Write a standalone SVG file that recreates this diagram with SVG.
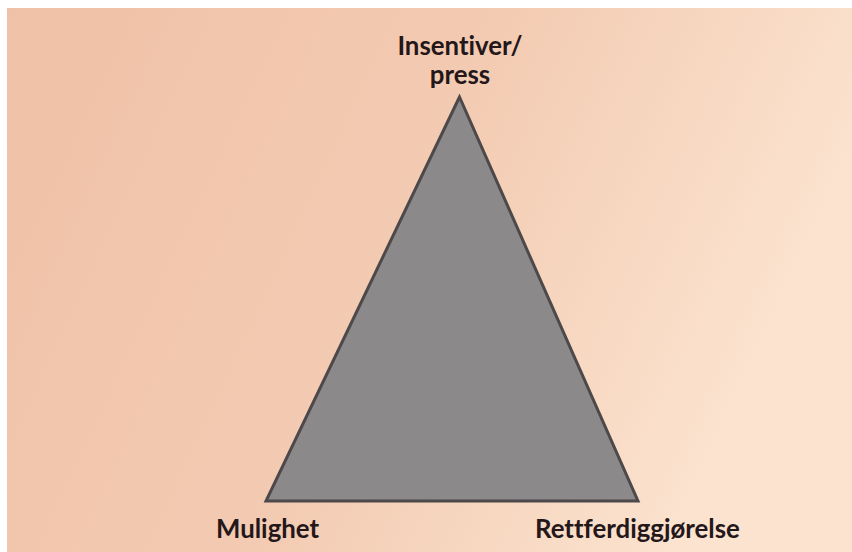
<svg xmlns="http://www.w3.org/2000/svg" width="852" height="552" viewBox="0 0 852 552">
  <defs>
    <linearGradient id="paper" x1="0" y1="0" x2="1" y2="0.3">
      <stop offset="0" stop-color="#efc1a6"/>
      <stop offset="0.55" stop-color="#f3cbb2"/>
      <stop offset="1" stop-color="#fbe3cf"/>
    </linearGradient>
    <style>
      .lbl { font-family: Lato, "Open Sans", "Liberation Sans", sans-serif; font-weight: bold; font-size: 25.8px; fill: #24171a; font-variant-ligatures: none; }
      .tri { fill: #8c898a; stroke: #4d494b; stroke-width: 3; stroke-linejoin: miter; }
    </style>
  </defs>
  <rect x="0" y="0" width="852" height="552" fill="#ffffff"/>
  <rect x="7" y="8" width="845" height="544" fill="url(#paper)"/>
  <g id="connectors"/>
  <g id="triangle">
    <polygon class="tri" points="459.5,97 266,501 638,501"/>
  </g>
  <g id="node-insentiver">
    <text class="lbl" x="460" y="55" text-anchor="middle">Insentiver/</text>
    <text class="lbl" x="460" y="84" text-anchor="middle">press</text>
  </g>
  <g id="node-mulighet">
    <text class="lbl" x="216" y="538">Mulighet</text>
  </g>
  <g id="node-rettferdiggjorelse">
    <text class="lbl" x="535" y="538">Rettferdiggjørelse</text>
  </g>
</svg>
